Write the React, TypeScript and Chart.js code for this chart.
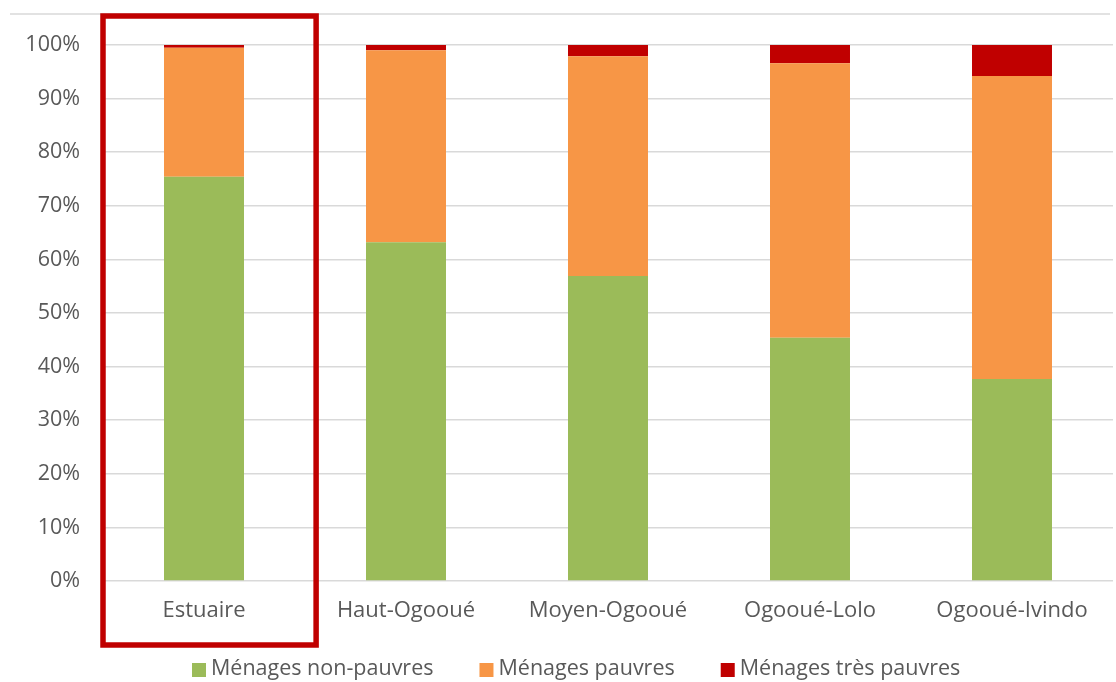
import { useEffect, useRef } from "react";
import { Chart, registerables } from "chart.js";

Chart.register(...registerables);

// Household poverty status by province (% of households)
const provinces = ["Estuaire", "Haut-Ogooué", "Moyen-Ogooué", "Ogooué-Lolo", "Ogooué-Ivindo"];
const nonPauvres = [75.4, 63.2, 56.9, 45.4, 37.7];
const pauvres = [24.1, 35.8, 41.0, 51.2, 56.5];
const tresPauvres = [0.5, 1.0, 2.1, 3.4, 5.8];

const seriesLabels = ["Ménages non-pauvres", "Ménages pauvres", "Ménages très pauvres"];
const seriesColors = ["#9BBB59", "#F79646", "#C00000"];

const highlightedProvince = "Estuaire";

const FONT = "'Open Sans', sans-serif";
const TEXT_COLOR = "#595959";
const GRID_COLOR = "#D9D9D9";

const decorations = {
  id: "decorations",
  beforeDraw(chart: any) {
    const { ctx, chartArea } = chart;
    // thin rule above the plot
    ctx.save();
    ctx.strokeStyle = GRID_COLOR;
    ctx.lineWidth = 1.5;
    ctx.beginPath();
    ctx.moveTo(10, chartArea.top - 31);
    ctx.lineTo(chartArea.right - 3, chartArea.top - 31);
    ctx.stroke();
    ctx.restore();
  },
  afterDraw(chart: any) {
    const { ctx, chartArea, scales } = chart;
    const x = scales.x;
    const idx = provinces.indexOf(highlightedProvince);
    const step = x.getPixelForValue(1) - x.getPixelForValue(0);
    const cx = x.getPixelForValue(idx);

    // frame around the highlighted province
    ctx.save();
    ctx.strokeStyle = "#C00000";
    ctx.lineWidth = 5.5;
    const left = cx - step * 0.5;
    const right = cx + step * 0.555;
    const top = chartArea.top - 29;
    const bottom = chartArea.bottom + 64;
    ctx.strokeRect(left, top, right - left, bottom - top);
    ctx.restore();

    // legend
    ctx.save();
    ctx.font = `21.5px ${FONT}`;
    ctx.textBaseline = "middle";
    ctx.fillStyle = TEXT_COLOR;
    const legendY = chartArea.bottom + 88;
    const box = 14;
    let lx = chartArea.left + 89;
    seriesLabels.forEach((label, i) => {
      ctx.fillStyle = seriesColors[i];
      ctx.fillRect(lx, legendY - box / 2 + 1, box, box);
      lx += box + 5;
      ctx.fillStyle = TEXT_COLOR;
      ctx.fillText(label, lx, legendY);
      lx += ctx.measureText(label).width + 46;
    });
    ctx.restore();
  },
};

export default function App() {
  const canvasRef = useRef<HTMLCanvasElement | null>(null);

  useEffect(() => {
    if (!canvasRef.current) return;
    const seriesData = [nonPauvres, pauvres, tresPauvres];
    const chart = new Chart(canvasRef.current, {
      type: "bar",
      data: {
        labels: provinces,
        datasets: seriesLabels.map((label, i) => ({
          label,
          data: seriesData[i],
          backgroundColor: seriesColors[i],
          borderWidth: 0,
          categoryPercentage: 1,
          barPercentage: 0.396,
        })),
      },
      options: {
        responsive: false,
        animation: false,
        devicePixelRatio: 1,
        layout: { padding: { top: 45, right: 3, bottom: 41, left: 0 } },
        plugins: {
          legend: { display: false },
          tooltip: { enabled: false },
          title: { display: false },
        },
        scales: {
          x: {
            stacked: true,
            grid: { display: false, drawTicks: false },
            border: { display: false },
            ticks: {
              color: TEXT_COLOR,
              font: { family: FONT, size: 22 },
              padding: 17,
              maxRotation: 0,
            },
            afterFit(scale: any) {
              scale.height = 60;
            },
          },
          y: {
            stacked: true,
            min: 0,
            max: 100,
            grid: { color: GRID_COLOR, lineWidth: 1.5, drawTicks: false },
            border: { display: false },
            ticks: {
              stepSize: 10,
              color: TEXT_COLOR,
              font: { family: FONT, size: 21.5 },
              padding: 23,
              callback: (v: any) => `${v}%`,
            },
            afterFit(scale: any) {
              scale.width = 103;
            },
          },
        },
      },
      plugins: [decorations],
    });
    return () => chart.destroy();
  }, []);

  return (
    <div style={{ position: "fixed", left: 0, top: 0, width: 1116, height: 682, background: "#fff" }}>
      <canvas ref={canvasRef} width={1116} height={682} style={{ display: "block" }} />
    </div>
  );
}
